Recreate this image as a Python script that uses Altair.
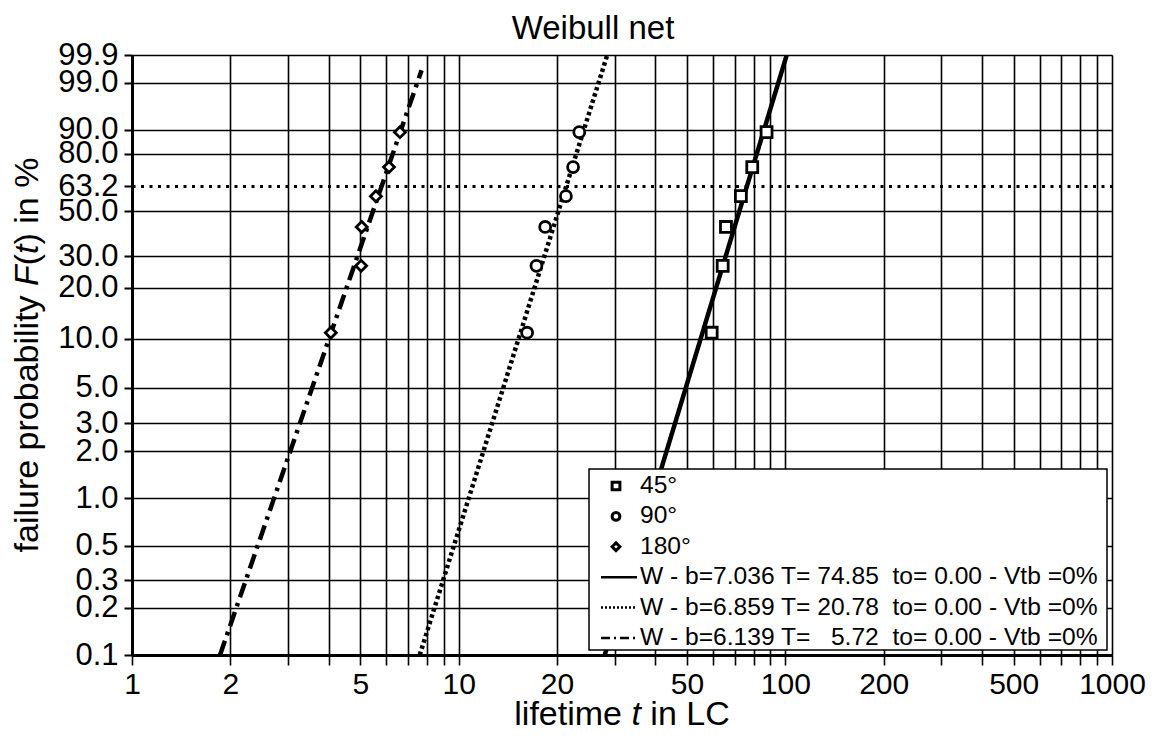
import math
import altair as alt
import pandas as pd

FONT = "Liberation Sans"

# ---------------- data ----------------
series_points = ["45°", "90°", "180°"]
series_lines = [
    "W - b=7.036 T= 74.85\u00a0 to= 0.00 - Vtb =0%",
    "W - b=6.859 T= 20.78\u00a0 to= 0.00 - Vtb =0%",
    "W - b=6.139 T=\u00a0\u00a0 5.72\u00a0 to= 0.00 - Vtb =0%",
]
point_shapes = ["square", "circle", "diamond"]
line_dashes = [[1, 0], [3.5, 3], [15, 6, 3.5, 6]]
legend_dashes = [[1, 0], [2, 2], [9, 4, 2, 4]]

# failure probability (median ranks, %) of the plotted points
F_rank = [10.9, 26.6, 42.2, 57.8, 73.4, 89.1]
# lifetimes (LC) of the points
t_45 = [59.5, 64.3, 65.8, 73.1, 79.2, 87.6]
t_90 = [16.2, 17.3, 18.4, 21.3, 22.4, 23.4]
t_180 = [4.06, 5.03, 5.05, 5.58, 6.12, 6.61]

# fitted Weibull lines: end points (lifetime, F %)
line_t_start = [28.0, 7.6, 1.86]
line_t_end = [101.0, 28.5, 7.7]
line_F_start = [0.1, 0.1, 0.1]
line_F_end = [99.9, 99.9, 99.6]

# axis ticks
y_ticks_F = [0.1, 0.2, 0.3, 0.5, 1.0, 2.0, 3.0, 5.0, 10.0, 20.0, 30.0,
             50.0, 63.2, 80.0, 90.0, 99.0, 99.9]
x_grid = [1, 2, 3, 4, 5, 6, 7, 8, 9,
          10, 20, 30, 40, 50, 60, 70, 80, 90,
          100, 200, 300, 400, 500, 600, 700, 800, 900, 1000]
x_labels = [1, 2, 5, 10, 20, 50, 100, 200, 500, 1000]

# axis titles, split where the reference switches to italic
x_title_parts = ["lifetime", "t", "in LC"]
x_title_italic = [False, True, False]
y_title_parts = ["failure probability", "F", "(", "t", ") in %"]
y_title_italic = [False, True, False, True, False]

# ---------------- tables ----------------
pts = []
for name, ts in zip(series_points, [t_45, t_90, t_180]):
    for t, f in zip(ts, F_rank):
        pts.append({"series": name, "t": t, "F": f})
points_df = pd.DataFrame(pts)

lns = []
for name, t0, t1, f0, f1 in zip(series_lines, line_t_start, line_t_end,
                                 line_F_start, line_F_end):
    lns.append({"series": name, "t": t0, "F": f0, "o": 0})
    lns.append({"series": name, "t": t1, "F": f1, "o": 1})
lines_df = pd.DataFrame(lns)


def weib(p):
    return math.log(-math.log(1 - p / 100.0))


y_vals = [weib(p) for p in y_ticks_F]
y_dom = [weib(y_ticks_F[0]), weib(y_ticks_F[-1])]

calc = "log(-log(1 - datum.F / 100))"

x_scale = alt.Scale(type="log", domain=[1, 1000], nice=False)
y_scale = alt.Scale(domain=y_dom, nice=False, zero=False)

lab_list = ",".join(str(v) for v in x_labels)
x_axis = alt.Axis(
    values=x_grid,
    labelExpr=f"indexof([{lab_list}], datum.value) >= 0 ? format(datum.value, 'd') : ''",
    title=None,
    labelFontSize=30, labelFont=FONT, labelColor="black", labelPadding=4,
    labelOverlap=False, labelFlush=False,
    tickSize=10, tickWidth=1.6, tickColor="black",
    domainWidth=3, domainColor="black",
    grid=True, gridColor="black", gridWidth=1.6, gridOpacity=1,
)

is63 = "abs(datum.value) < 0.01"
y_axis = alt.Axis(
    values=y_vals,
    labelExpr="format(100 * (1 - exp(-exp(datum.value))), '.1f')",
    title=None,
    labelFontSize=31, labelFont=FONT, labelColor="black", labelPadding=6,
    labelOverlap=False,
    tickSize=8, tickWidth=2, tickColor="black",
    domainWidth=3, domainColor="black",
    grid=True, gridColor="black", gridOpacity=1,
    gridWidth={"condition": {"test": is63, "value": 3}, "value": 1.6},
    gridDash={"condition": {"test": is63, "value": [3, 5.5]}, "value": [1, 0]},
)

shape_scale = alt.Scale(domain=series_points, range=point_shapes)
dash_scale = alt.Scale(domain=series_lines, range=line_dashes)

lines = alt.Chart(lines_df).transform_calculate(W=calc).mark_line(
    color="black", strokeWidth=4.5, clip=True
).encode(
    x=alt.X("t:Q", scale=x_scale, axis=x_axis),
    y=alt.Y("W:Q", scale=y_scale, axis=y_axis),
    strokeDash=alt.StrokeDash("series:N", scale=dash_scale, legend=None),
    order="o:Q",
)

points = alt.Chart(points_df).transform_calculate(W=calc).mark_point(
    filled=True, fill="white", stroke="black", strokeWidth=2.8, opacity=1, size=120
).encode(
    x=alt.X("t:Q", scale=x_scale, axis=x_axis),
    y=alt.Y("W:Q", scale=y_scale, axis=y_axis),
    shape=alt.Shape("series:N", scale=shape_scale, legend=None),
)

# ---------------- legend box (drawn by hand, pixel placement) ----------------
LX0, LX1, LY0, LY1 = 457, 975, 414, 595
ROW0, PITCH = 431, 30.4
SYM_X, LINE_X0, LINE_X1, TXT_X = 484, 469, 505, 508

one = pd.DataFrame({"k": [0]})
deco = [
    alt.Chart(one).mark_rect(fill="white", stroke="black", strokeWidth=1.5).encode(
        x=alt.value(LX0), x2=alt.value(LX1), y=alt.value(LY0), y2=alt.value(LY1)
    )
]
for i, (name, shp) in enumerate(zip(series_points, point_shapes)):
    yy = ROW0 + i * PITCH
    deco.append(
        alt.Chart(one).mark_point(shape=shp, filled=True, fill="white", stroke="black",
                                  strokeWidth=3, size=60, opacity=1).encode(
            x=alt.value(SYM_X), y=alt.value(yy))
    )
for j, (name, dash) in enumerate(zip(series_lines, legend_dashes)):
    yy = ROW0 + (j + 3) * PITCH
    deco.append(
        alt.Chart(one).mark_rule(color="black", strokeWidth=2.5, strokeDash=dash).encode(
            x=alt.value(LINE_X0), x2=alt.value(LINE_X1), y=alt.value(yy))
    )
for i, name in enumerate(series_points + series_lines):
    yy = ROW0 + i * PITCH
    deco.append(
        alt.Chart(pd.DataFrame({"label": [name]})).mark_text(
            align="left", baseline="middle", fontSize=24.6, font=FONT, color="black"
        ).encode(x=alt.value(TXT_X), y=alt.value(yy), text="label:N")
    )

# ---------------- axis titles with italic parts ----------------
# Arial / Liberation Sans advance widths (em/1000)
ADV = {"f": 278, "a": 556, "i": 222, "l": 222, "u": 556, "r": 333, "e": 556,
       " ": 278, "p": 556, "o": 556, "b": 556, "t": 278, "y": 500, "F": 611,
       "(": 333, ")": 333, "n": 556, "%": 889, "m": 833, "L": 556, "C": 722}


def text_w(s, fs):
    return sum(ADV.get(c, 556) for c in s) * fs / 1000.0


TFS = 34
# x title: centred under the plot, baseline below the tick labels
x_full = " ".join(x_title_parts)
pos = 490 - text_w(x_full, TFS) / 2
for part, it in zip(x_title_parts, x_title_italic):
    deco.append(
        alt.Chart(pd.DataFrame({"label": [part]})).mark_text(
            align="left", baseline="alphabetic", fontSize=TFS, font=FONT, color="black",
            fontStyle="italic" if it else "normal"
        ).encode(x=alt.value(pos), y=alt.value(670), text="label:N")
    )
    pos += text_w(part + " ", TFS)

# y title: rotated, centred on the plot height
y_full = "failure probability F(t) in %"
pos = 300 + text_w(y_full, TFS) / 2
for k, (part, it) in enumerate(zip(y_title_parts, y_title_italic)):
    deco.append(
        alt.Chart(pd.DataFrame({"label": [part]})).mark_text(
            align="left", baseline="alphabetic", angle=270, fontSize=TFS, font=FONT,
            color="black", fontStyle="italic" if it else "normal"
        ).encode(x=alt.value(-94), y=alt.value(pos), text="label:N")
    )
    sep = " " if part == "failure probability" else ""
    pos -= text_w(part + sep, TFS)

chart = alt.layer(lines, points, *deco).properties(
    width=980, height=600,
    autosize="none",
    padding={"left": 124, "top": 47, "right": 35, "bottom": 77},
    title=alt.Title("Weibull net", fontSize=33, font=FONT, fontWeight="normal",
                    color="black", offset=-7, dx=-29),
).configure_view(
    stroke="black", strokeWidth=2.5
).configure(background="white")

chart.save("out.html", embed_options={"renderer": "svg", "actions": False})
